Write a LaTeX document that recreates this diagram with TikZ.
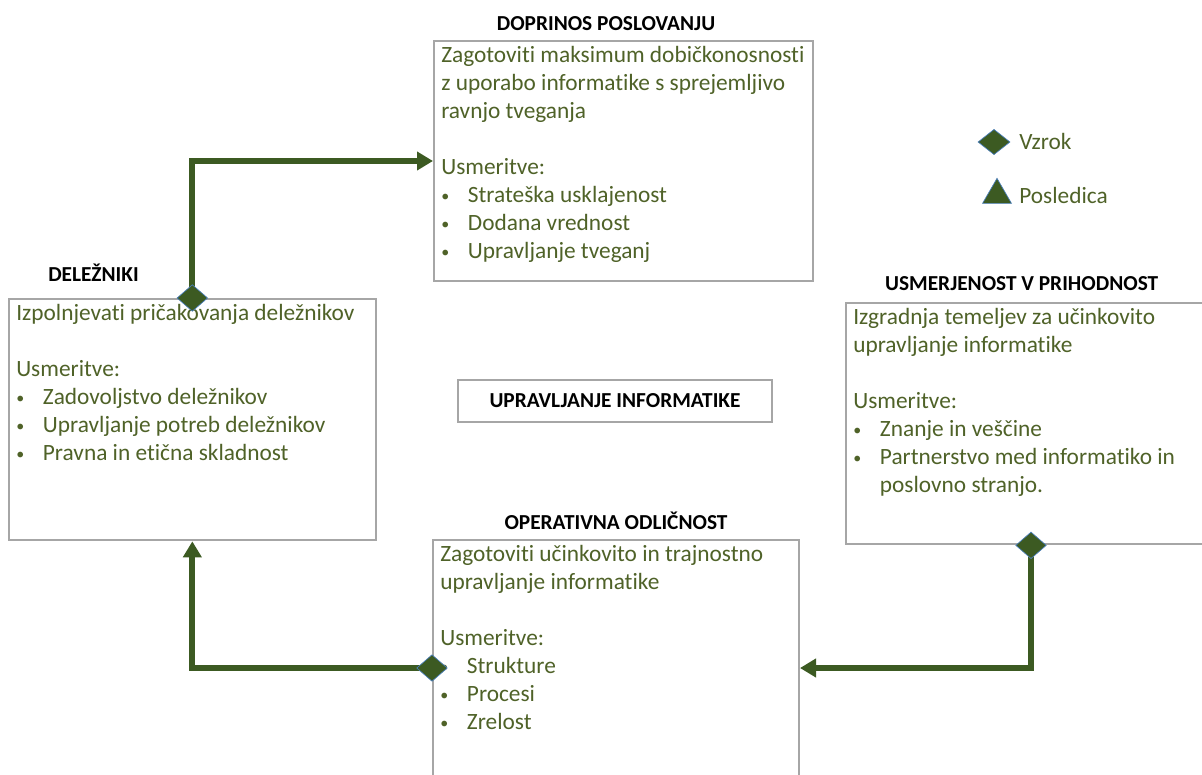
\documentclass[tikz,border=0pt]{standalone}
\usepackage{fontspec}
\setmainfont{Carlito}[Ligatures=NoCommon]
\usetikzlibrary{positioning, shapes.geometric, arrows.meta, backgrounds}

\definecolor{txtgreen}{HTML}{4F6228}
\definecolor{flowgreen}{HTML}{3C5A22}
\definecolor{boxgray}{HTML}{A6A6A6}
\definecolor{rimblue}{HTML}{4A7EBB}

\newcommand{\itm}{\makebox[20pt][l]{\raisebox{1pt}{\fontsize{12}{12}\selectfont\textbullet}}}

\tikzset{
    box/.style={draw=boxgray, line width=1.5pt, fill=white, anchor=north west, inner sep=0pt},
    body/.style={text=txtgreen, font=\fontsize{17.5}{21}\selectfont, align=left, inner sep=0pt},
    head/.style={font=\fontsize{16}{19}\selectfont\bfseries, inner sep=0pt},
    flow/.style={draw=flowgreen, line width=4.5pt, -{Triangle[length=12pt, width=13.5pt]}},
    cause/.style={diamond, fill=flowgreen, draw=rimblue, line width=0.5pt, minimum width=23pt, minimum height=20pt, inner sep=0pt},
    effect/.style={regular polygon, regular polygon sides=3, fill=flowgreen, draw=rimblue, line width=0.5pt, minimum size=25pt, inner sep=0pt}
}

\begin{document}
\begin{tikzpicture}[x=0.75pt, y=-0.75pt]
    \useasboundingbox (0,0) rectangle (1202,774);

    % the four areas
    \node (dop) [box, minimum width=284pt, minimum height=180pt] at (433,40) {};
    \node (del) [box, minimum width=275pt, minimum height=181pt] at (8,298) {};
    \node (ops) [box, minimum width=274.5pt, minimum height=192pt] at (432,539) {};
    \node (usm) [box, minimum width=277.5pt, minimum height=181pt] at (845,302) {};
    \node (upr) [box, head, anchor=center, minimum width=235.5pt, minimum height=31.5pt] at (615,401) {UPRAVLJANJE INFORMATIKE};

    \node (dopT) [head, above=7pt of dop, xshift=-13pt] {DOPRINOS POSLOVANJU};
    \node (delT) [head, above right=12pt and 30pt of del.north west] {DELEŽNIKI};
    \node (opsT) [head, above=6.5pt of ops] {OPERATIVNA ODLIČNOST};
    \node (usmT) [head, above=8pt of usm, xshift=-7pt] {USMERJENOST V PRIHODNOST};

    \node (dopX) [body, below right=4.5pt and 6pt of dop.north west] {%
        Zagotoviti maksimum dobičkonosnosti\\
        z uporabo informatike s sprejemljivo\\
        ravnjo tveganja\\[21pt]
        Usmeritve:\\
        \itm Strateška usklajenost\\
        \itm Dodana vrednost\\
        \itm Upravljanje tveganj};
    \node (delX) [body, below right=4.5pt and 6pt of del.north west] {%
        Izpolnjevati pričakovanja deležnikov\\[21pt]
        Usmeritve:\\
        \itm Zadovoljstvo deležnikov\\
        \itm Upravljanje potreb deležnikov\\
        \itm Pravna in etična skladnost};
    \node (opsX) [body, below right=4.5pt and 6pt of ops.north west] {%
        Zagotoviti učinkovito in trajnostno\\
        upravljanje informatike\\[21pt]
        Usmeritve:\\
        \itm Strukture\\
        \itm Procesi\\
        \itm Zrelost};
    \node (usmX) [body, below right=4.5pt and 6pt of usm.north west] {%
        Izgradnja temeljev za učinkovito\\
        upravljanje informatike\\[21pt]
        Usmeritve:\\
        \itm Znanje in veščine\\
        \itm Partnerstvo med informatiko in\\
        \hspace*{20pt}poslovno stranjo.};

    % causes sit on the box edges
    \node (d1) [cause] at (del.north) {};
    \node (d2) [cause] at (ops.west) {};
    \node (d3) [cause] at (usm.south) {};

    \begin{scope}[on background layer]
        \draw[flow] (d1.center) |- (dop.west);
        \draw[flow] (d2.center) -| (del.south);
        \draw[flow] (d3.center) |- (ops.east);
    \end{scope}

    % legend
    \node (vz) [cause, minimum width=24pt, minimum height=19pt] at (994,142) {};
    \node (vzT) [body, anchor=west] at (1019,141) {Vzrok};
    \node (po) [effect] at (997,195) {};
    \node (poT) [body, anchor=west] at (vzT.west |- 0,195) {Posledica};
\end{tikzpicture}
\end{document}
